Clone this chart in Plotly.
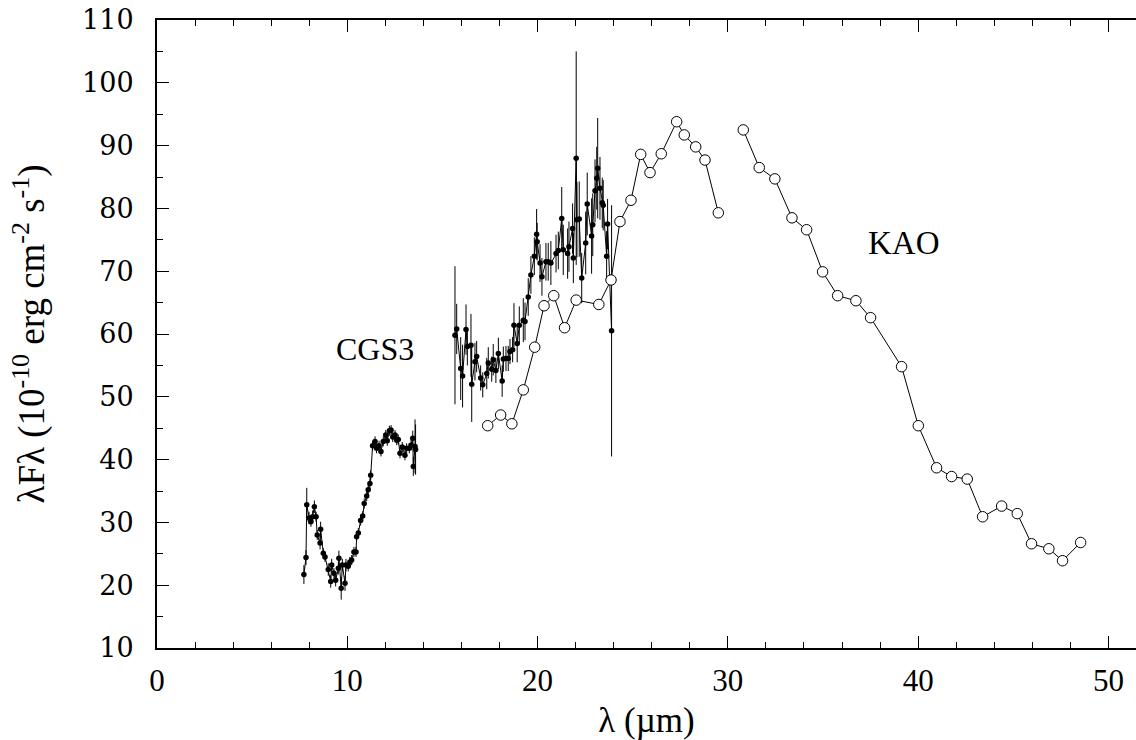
import plotly.graph_objects as go

# CGS3 spectrum, 8-13.6 um segment
cgs3a_wl = [7.72, 7.83, 7.87, 7.99, 8.09, 8.18, 8.27, 8.36, 8.42, 8.57, 8.60, 8.74, 8.83, 9.00,
            9.13, 9.18, 9.30, 9.39, 9.53, 9.56, 9.68, 9.74, 9.88, 9.93, 10.05, 10.14, 10.23,
            10.35, 10.46, 10.49, 10.58, 10.70, 10.81, 10.89, 11.02, 11.10, 11.19, 11.23, 11.33,
            11.46, 11.54, 11.67, 11.77, 11.89, 12.02, 12.10, 12.21, 12.30, 12.39, 12.51, 12.60,
            12.68, 12.77, 12.89, 13.03, 13.12, 13.26, 13.35, 13.44, 13.47, 13.56, 13.59]
cgs3a_flux = [21.7, 24.4, 32.8, 30.7, 30.1, 30.9, 32.5, 30.9, 28.0, 26.7, 28.9, 25.1, 24.5, 22.5,
              20.6, 23.2, 21.9, 20.8, 22.7, 24.3, 19.5, 23.2, 20.3, 23.2, 23.0, 23.7, 24.0,
              25.3, 25.3, 27.7, 28.3, 30.3, 31.0, 33.0, 34.2, 35.2, 36.2, 37.5, 42.2,
              42.9, 41.8, 42.2, 41.3, 42.9, 43.9, 43.0, 44.6, 44.7, 43.6, 43.9, 43.1,
              43.2, 41.0, 42.0, 40.7, 41.8, 41.8, 42.3, 43.4, 38.9, 42.1, 41.6]
cgs3a_err = [1.5, 1.2, 2.7, 1.0, 0.8, 1.0, 1.0, 0.8, 0.8, 1.0, 1.2, 0.8, 0.8, 1.0,
             1.0, 1.0, 0.8, 1.0, 1.0, 1.2, 1.8, 1.0, 1.2, 1.0, 0.8, 0.8, 0.8,
             0.8, 0.8, 0.8, 0.8, 0.8, 0.8, 0.8, 0.8, 0.8, 0.8, 0.8, 0.8,
             0.8, 0.8, 0.8, 0.8, 0.8, 0.8, 0.8, 0.8, 0.8, 0.8, 0.8, 0.8,
             0.8, 0.8, 0.8, 0.8, 0.8, 0.8, 0.8, 1.2, 1.5, 4.3, 4.0]

# CGS3 spectrum, 15.5-24 um segment
cgs3b_wl = [15.66, 15.75, 15.96, 16.06, 16.24, 16.31, 16.50, 16.54, 16.71, 16.80, 17.01, 17.12,
            17.33, 17.41, 17.59, 17.67, 17.81, 17.94, 18.14, 18.20, 18.34, 18.46, 18.55, 18.69,
            18.76, 18.93, 19.04, 19.25, 19.34, 19.51, 19.65, 19.83, 19.95, 19.98, 20.13, 20.23,
            20.44, 20.56, 20.70, 20.97, 21.09, 21.27, 21.35, 21.58, 21.65, 21.84, 21.88, 22.03,
            22.07, 22.19, 22.32, 22.53, 22.61, 22.84, 22.90, 23.02, 23.11, 23.16, 23.28, 23.40,
            23.45, 23.63, 23.68, 23.89]
cgs3b_flux = [59.8, 60.8, 54.5, 53.3, 60.7, 58.0, 58.2, 52.0, 55.6, 56.4, 53.0, 51.9,
              53.7, 55.4, 54.4, 55.9, 54.2, 56.9, 52.5, 56.0, 56.1, 56.1, 57.2, 57.5,
              61.4, 58.5, 61.4, 62.2, 62.0, 65.9, 69.4, 72.4, 75.9, 74.7, 71.3, 69.1,
              71.5, 71.5, 71.3, 72.8, 73.3, 78.4, 73.4, 72.8, 73.9, 76.8, 72.1, 88.0,
              78.2, 78.3, 68.9, 74.5, 80.7, 75.6, 77.4, 82.8, 84.8, 86.4, 83.2, 80.9,
              80.5, 72.4, 77.5, 60.5]
cgs3b_err = [11.0, 4.0, 5.0, 5.0, 4.0, 3.0, 5.0, 6.0, 3.0, 2.5, 2.0, 2.0,
             2.5, 2.5, 2.0, 2.5, 2.0, 2.5, 2.5, 2.0, 2.0, 2.0, 2.0, 2.0,
             3.5, 3.0, 3.0, 3.5, 3.0, 3.0, 3.0, 3.0, 4.0, 3.0, 3.0, 3.0,
             3.0, 3.0, 3.5, 3.0, 3.0, 5.0, 4.0, 4.0, 4.0, 4.0, 4.0, 17.0,
             6.0, 6.0, 4.0, 5.0, 5.0, 6.0, 5.0, 5.0, 5.0, 8.0, 5.0, 4.0,
             4.0, 4.0, 4.0, 20.0]

# KAO photometry, short-wavelength segment
kao_a_wl = [17.38, 18.06, 18.65, 19.25, 19.85, 20.34, 20.85, 21.42, 22.03, 23.22, 23.86,
            24.33, 24.91, 25.42, 25.91, 26.50, 27.31, 27.71, 28.31, 28.80, 29.50]
kao_a_flux = [45.4, 47.1, 45.7, 51.1, 57.9, 64.5, 66.1, 61.0, 65.4, 64.7, 68.6,
              77.9, 81.3, 88.6, 85.7, 88.7, 93.8, 91.7, 89.8, 87.7, 79.3]

# KAO photometry, long-wavelength segment
kao_b_wl = [30.81, 31.65, 32.47, 33.37, 34.14, 34.98, 35.77, 36.73, 37.50, 39.13, 40.01,
            40.97, 41.76, 42.58, 43.39, 44.39, 45.21, 45.96, 46.87, 47.59, 48.54]
kao_b_flux = [92.5, 86.5, 84.7, 78.5, 76.6, 69.9, 66.1, 65.3, 62.6, 54.8, 45.4,
              38.7, 37.3, 36.9, 30.9, 32.6, 31.4, 26.6, 25.8, 23.9, 26.8]

x_ticks = [0, 10, 20, 30, 40, 50]
y_ticks = [10, 20, 30, 40, 50, 60, 70, 80, 90, 100, 110]

SERIF = "'Liberation Serif', 'Times New Roman', Times, serif"
WIDE_SERIF = "'DejaVu Serif', 'Liberation Serif', serif"

fig = go.Figure()

for wl, fl, er in [(cgs3a_wl, cgs3a_flux, cgs3a_err), (cgs3b_wl, cgs3b_flux, cgs3b_err)]:
    fig.add_trace(go.Scatter(
        x=wl, y=fl, mode="lines+markers",
        line=dict(color="black", width=1),
        marker=dict(color="black", size=5.5, symbol="circle"),
        error_y=dict(type="data", array=er, visible=True, color="black", thickness=1, width=0),
        showlegend=False, hoverinfo="x+y"))

for wl, fl in [(kao_a_wl, kao_a_flux), (kao_b_wl, kao_b_flux)]:
    fig.add_trace(go.Scatter(
        x=wl, y=fl, mode="lines+markers",
        line=dict(color="black", width=1),
        marker=dict(color="white", size=10.5, symbol="circle",
                    line=dict(color="black", width=1)),
        showlegend=False, hoverinfo="x+y"))

fig.add_annotation(x=11.46, y=57.6, text="CGS3", showarrow=False,
                   font=dict(family=SERIF, size=32, color="black"))
fig.add_annotation(x=39.25, y=74.5, text="KAO", showarrow=False,
                   font=dict(family=SERIF, size=33, color="black"))

fig.update_layout(
    width=1136, height=740,
    margin=dict(l=157, r=0, t=20, b=92),
    plot_bgcolor="white", paper_bgcolor="white",
    font=dict(family=SERIF, color="black"),
    xaxis=dict(
        range=[0, 51.45], tickvals=x_ticks, ticks="inside", ticklen=12, tickwidth=1,
        tickcolor="black", showline=True, linecolor="black", linewidth=2,
        mirror="ticks", showgrid=False, zeroline=False,
        minor=dict(dtick=2, ticks="inside", ticklen=6, tickwidth=1, tickcolor="black",
                   showgrid=False),
        tickfont=dict(family=SERIF, size=31, color="black"),
        ticklabelstandoff=4,
        title=dict(text="λ (µm)", font=dict(family=SERIF, size=35, color="black"), standoff=10),
    ),
    yaxis=dict(
        range=[10, 110], tickvals=y_ticks, ticks="inside", ticklen=12, tickwidth=1,
        tickcolor="black", showline=True, linecolor="black", linewidth=2,
        mirror=False, showgrid=False, zeroline=False,
        minor=dict(dtick=5, ticks="inside", ticklen=6, tickwidth=1, tickcolor="black",
                   showgrid=False),
        tickfont=dict(family=WIDE_SERIF, size=27, color="black"),
        ticklabelstandoff=16,
        title=dict(text="λFλ (10<sup>-10</sup> erg cm<sup>-2</sup> s<sup>-1</sup>)",
                   font=dict(family=SERIF, size=37, color="black"), standoff=26),
    ),
)

fig.write_html("out.html")
